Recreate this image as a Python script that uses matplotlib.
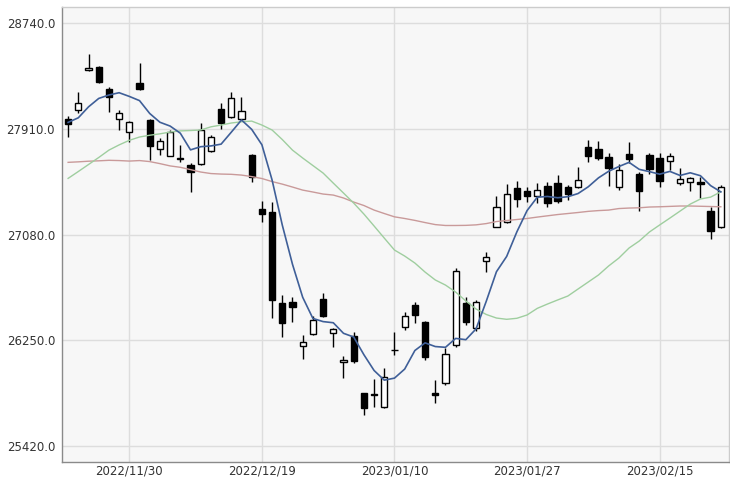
"""Nikkei-style daily candlestick chart with 5/25/75-day moving averages."""

import numpy as np
import matplotlib
matplotlib.use("Agg")
import matplotlib.pyplot as plt

# daily OHLC, 2022/11/21 .. 2023/02/24
opens = [27988, 28058, 28370, 28398, 28221, 27990, 27883, 28273, 27980, 27752,
         27699, 27674, 27626, 27632, 27736, 28064, 28001, 27988, 27705, 27281,
         27260, 26545, 26551, 26207, 26299, 26572, 26305, 26079, 26283, 25833,
         25830, 25729, 26170, 26356, 26527, 26391, 25834, 25912, 26213, 26540,
         26349, 26875, 27142, 27176, 27443, 27424, 27385, 27461, 27483, 27451,
         27451, 27770, 27750, 27692, 27451, 27713, 27553, 27705, 27684, 27660,
         27483, 27495, 27490, 27268, 27142]
highs = [28013, 28202, 28503, 28405, 28241, 28058, 27975, 28425, 27990, 27836,
         27901, 27783, 27640, 27954, 27862, 28111, 28197, 28163, 27713, 27344,
         27338, 26606, 26587, 26291, 26441, 26619, 26350, 26127, 26317, 25840,
         25943, 26030, 26312, 26474, 26548, 26401, 25938, 26187, 26815, 26592,
         26566, 26946, 27383, 27475, 27501, 27451, 27487, 27495, 27548, 27469,
         27613, 27823, 27815, 27718, 27632, 27809, 27574, 27723, 27718, 27723,
         27600, 27535, 27535, 27294, 27469]
lows = [27849, 28032, 28365, 28268, 28045, 27901, 27804, 28218, 27666, 27705,
        27695, 27652, 27417, 27628, 27731, 27909, 27993, 27984, 27490, 27176,
        26422, 26278, 26396, 26103, 26295, 26435, 26199, 25951, 26069, 25663,
        25728, 25716, 26135, 26331, 26383, 26095, 25755, 25899, 26199, 26370,
        26323, 26788, 27138, 27170, 27294, 27333, 27330, 27299, 27330, 27351,
        27445, 27652, 27666, 27461, 27430, 27640, 27267, 27556, 27451, 27587,
        27469, 27424, 27365, 27043, 27129]
closes = [27946, 28111, 28386, 28281, 28163, 28032, 27966, 28223, 27778, 27815,
          27883, 27686, 27569, 27901, 27844, 27954, 28155, 28050, 27534, 27239,
          26566, 26388, 26509, 26236, 26409, 26443, 26341, 26095, 26090, 25716,
          25821, 25965, 26173, 26443, 26448, 26121, 25822, 26140, 26794, 26396,
          26548, 26906, 27299, 27396, 27359, 27385, 27430, 27330, 27346, 27399,
          27509, 27697, 27679, 27605, 27587, 27671, 27422, 27592, 27501, 27697,
          27514, 27527, 27477, 27108, 27456]

# moving averages as drawn in the reference
ma5 = [27962, 27998, 28084, 28150, 28177, 28195, 28166, 28133, 28032, 27963,
       27933, 27877, 27746, 27771, 27777, 27791, 27885, 27981, 27907, 27786,
       27509, 27155, 26847, 26588, 26422, 26397, 26388, 26305, 26276, 26137,
       26013, 25937, 25953, 26024, 26170, 26230, 26201, 26195, 26265, 26255,
       26340, 26557, 26789, 26909, 27102, 27269, 27374, 27380, 27370, 27378,
       27403, 27456, 27526, 27578, 27615, 27648, 27593, 27575, 27555, 27577,
       27545, 27566, 27543, 27465, 27416]
ma25 = [27522, 27576, 27631, 27686, 27744, 27785, 27821, 27847, 27861, 27872,
        27886, 27895, 27898, 27902, 27927, 27941, 27957, 27967, 27972, 27941,
        27902, 27827, 27744, 27682, 27623, 27564, 27485, 27407, 27328, 27242,
        27148, 27053, 26959, 26912, 26857, 26786, 26724, 26684, 26629, 26559,
        26496, 26453, 26425, 26415, 26423, 26449, 26501, 26535, 26567, 26598,
        26653, 26708, 26763, 26834, 26896, 26975, 27030, 27101, 27156, 27210,
        27265, 27320, 27360, 27375, 27417]
ma75 = [27648, 27652, 27657, 27660, 27664, 27662, 27658, 27662, 27654, 27638,
        27620, 27609, 27591, 27572, 27560, 27556, 27554, 27548, 27536, 27521,
        27497, 27477, 27454, 27430, 27415, 27399, 27391, 27368, 27336, 27309,
        27273, 27246, 27220, 27207, 27192, 27175, 27159, 27152, 27152, 27153,
        27157, 27167, 27183, 27191, 27199, 27207, 27218, 27228, 27238, 27246,
        27254, 27263, 27269, 27273, 27285, 27289, 27291, 27297, 27299, 27302,
        27305, 27305, 27303, 27301, 27299]

tick_idx = [6, 19, 32, 45, 58]
tick_labels = ["2022/11/30", "2022/12/19", "2023/01/10", "2023/01/27", "2023/02/15"]
y_ticks = [25420, 26250, 27080, 27910, 28740]

o = np.array(opens, float)
h = np.array(highs, float)
l = np.array(lows, float)
c = np.array(closes, float)
x = np.arange(len(o))

fig = plt.figure(figsize=(7.3, 4.79), dpi=100)
ax = fig.add_axes([62 / 730, 1 - 461.5 / 479, 667 / 730, 454.2 / 479])
ax.set_facecolor("#f7f7f7")

# wicks, then bodies (black = down day, white = up day)
ax.vlines(x, l, h, color="black", lw=1, zorder=2)
up = c >= o
bottom = np.minimum(o, c)
height = np.maximum(np.abs(c - o), 6)
ax.bar(x[up], height[up], bottom=bottom[up], width=0.62, facecolor="white",
       edgecolor="black", lw=1, zorder=3)
ax.bar(x[~up], height[~up], bottom=bottom[~up], width=0.62, facecolor="black",
       edgecolor="black", lw=1, zorder=3)

ax.plot(x, ma75, color="#c99a9a", lw=1, zorder=4)
ax.plot(x, ma25, color="#9fce9f", lw=1, zorder=4)
ax.plot(x, ma5, color="#3f5f98", lw=1.2, zorder=5)

ax.set_xlim(-0.6, 64.8)
ax.set_ylim(25298, 28866)
ax.set_xticks(tick_idx)
ax.set_xticklabels(tick_labels)
ax.set_yticks(y_ticks)
ax.set_yticklabels([f"{v:.1f}" for v in y_ticks])
ax.grid(True, color="#dddddd", lw=1, zorder=0)
ax.set_axisbelow(True)
ax.tick_params(length=0, labelsize=8.5, labelcolor="#333333")
ax.tick_params(axis="y", pad=5)
ax.tick_params(axis="x", pad=2)
for s in ax.spines.values():
    s.set_color("#8a8a8a")
    s.set_linewidth(1)
ax.spines["top"].set_color("#cccccc")
ax.spines["right"].set_color("#cccccc")

fig.savefig("out.png", dpi=100)
